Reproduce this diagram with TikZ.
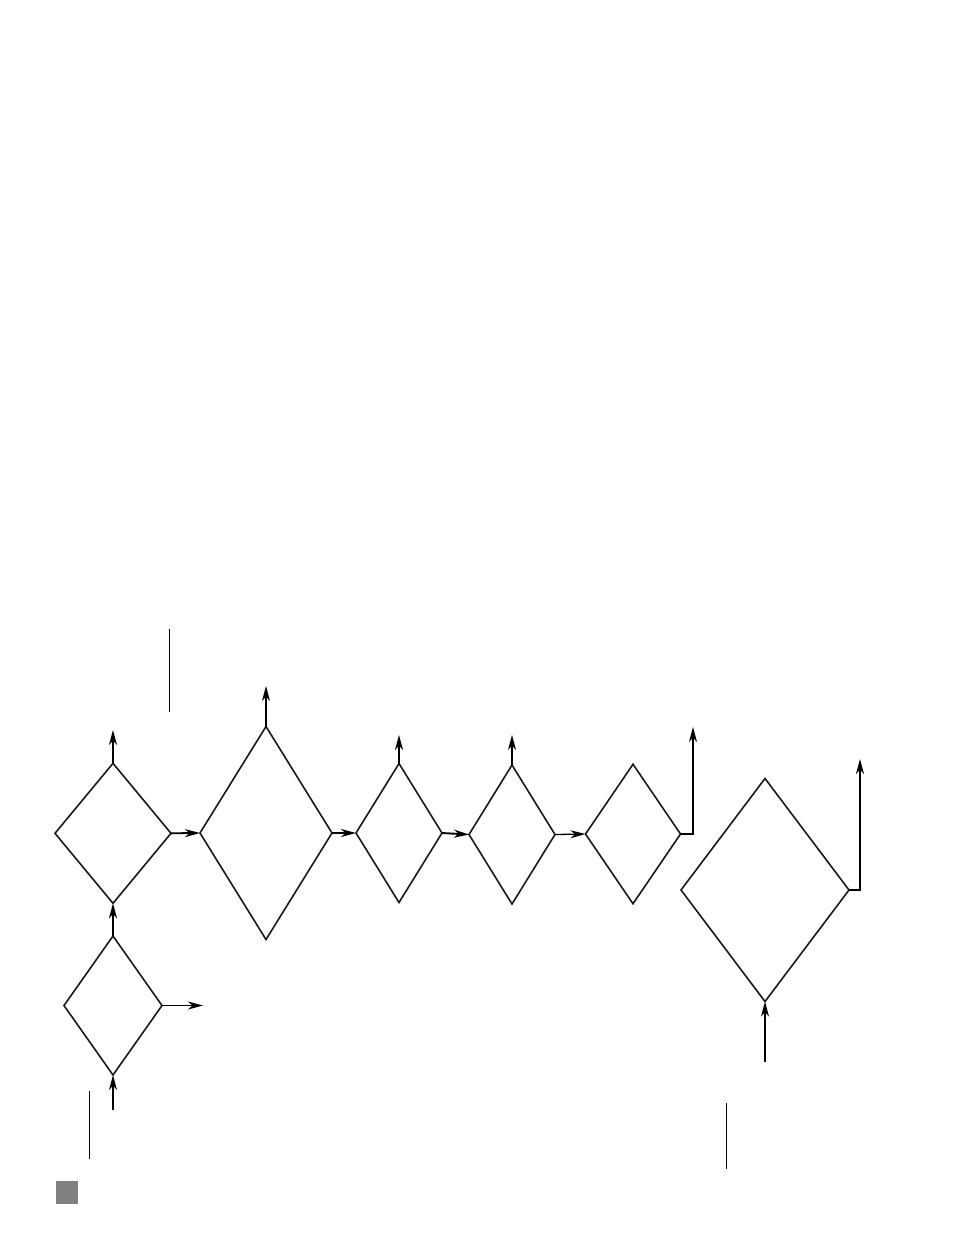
\documentclass[tikz,border=0pt]{standalone}
\usetikzlibrary{shapes.geometric,arrows.meta}
\begin{document}
\begin{tikzpicture}[x=1pt,y=-1pt,
  dia/.style={diamond,draw=black!90,line width=1.6pt,inner sep=0pt,outer sep=0pt},
  arr/.style={line width=1.3pt,-{Stealth[length=15pt,width=8pt,inset=4.5pt]}},
  arrthick/.style={line width=1.9pt,-{Stealth[length=15pt,width=8pt,inset=4.5pt]}},
  plain/.style={line width=1pt}]
\useasboundingbox (0,0) rectangle (954,1235);
\node[dia,minimum width=116pt,minimum height=140pt] (d1) at (113,833.3) {};
\node[dia,minimum width=132pt,minimum height=213pt] (d2) at (266,833) {};
\node[dia,minimum width=86pt,minimum height=139pt] (d3) at (399,833) {};
\node[dia,minimum width=86pt,minimum height=139pt] (d4) at (512,834.5) {};
\node[dia,minimum width=95pt,minimum height=139.5pt] (d5) at (633,834) {};
\node[dia,minimum width=168pt,minimum height=223pt] (d6) at (765,890) {};
\node[dia,minimum width=98pt,minimum height=139pt] (d7) at (113,1005.5) {};
\coordinate (u1) at (113,730);
\coordinate (u2) at (266,686);
\coordinate (u3) at (399,735);
\coordinate (u4) at (512,735);
\coordinate (u5) at (693,727);
\coordinate (u6) at (860,759);
\coordinate (r7) at (203,1005.5);
\coordinate (b7) at (113,1110);
\coordinate (b6) at (765,1062);
\draw[arr] (d1.north) -- (u1);
\draw[arrthick] (d1.east) -- (d2.west);
\draw[arr] (d2.north) -- (u2);
\draw[arrthick] (d2.east) -- (d3.west);
\draw[arrthick] (d3.north) -- (u3);
\draw[arrthick] (d3.east) -- (d4.west);
\draw[arr] (d4.north) -- (u4);
\draw[arr] (d4.east) -- (d5.west);
\draw[arr] (d5.east) -| (u5);
\draw[arrthick] (d6.east) -| (u6);
\draw[arrthick] (d7.north) -- (d1.south);
\draw[arr] (d7.east) -- (r7);
\draw[arr] (b7) -- (d7.south);
\draw[arr] (b6) -- (d6.south);
\coordinate (l1a) at (169.3,629); \coordinate (l1b) at (169.3,712);
\coordinate (l2a) at (89.3,1091); \coordinate (l2b) at (89.3,1159);
\coordinate (l3a) at (726,1103); \coordinate (l3b) at (726,1169);
\draw[plain] (l1a) -- (l1b);
\draw[plain] (l2a) -- (l2b);
\draw[plain] (l3a) -- (l3b);
\fill[black!50] (56,1181) rectangle (78,1204);
\end{tikzpicture}
\end{document}
